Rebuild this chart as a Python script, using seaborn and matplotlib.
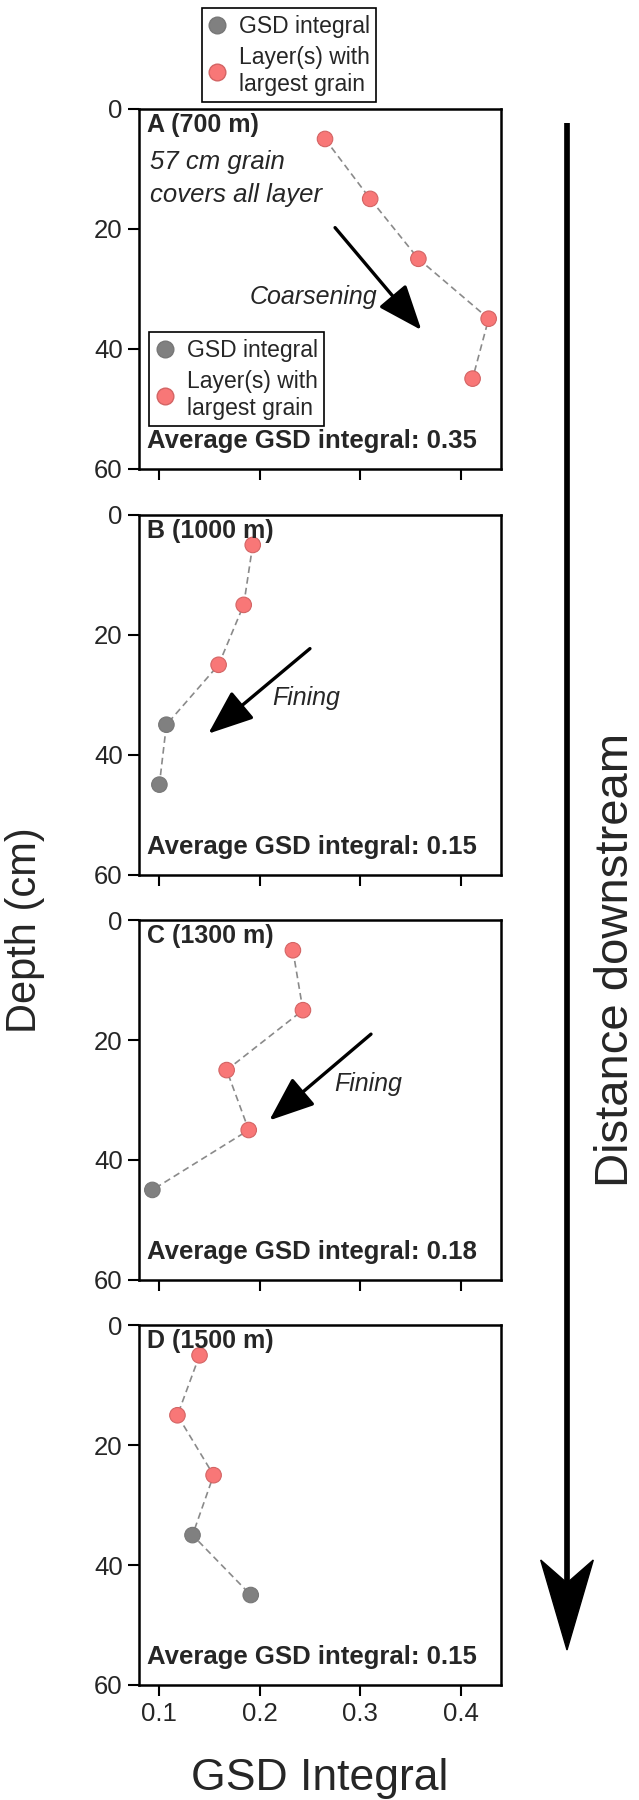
import numpy as np
import pandas as pd
import matplotlib
matplotlib.use("Agg")
import matplotlib.pyplot as plt
import seaborn as sns
from matplotlib.lines import Line2D
from matplotlib.patches import Polygon

# depth of each sampled layer (cm)
depth = [5, 15, 25, 35, 45]

# GSD integral per layer
gsd_a = [0.265, 0.310, 0.358, 0.428, 0.412]
gsd_b = [0.193, 0.184, 0.159, 0.107, 0.100]
gsd_c = [0.233, 0.243, 0.167, 0.189, 0.093]
gsd_d = [0.140, 0.118, 0.154, 0.133, 0.191]

# True = layer(s) holding the largest grain
big_a = [True, True, True, True, True]
big_b = [True, True, True, False, False]
big_c = [True, True, True, True, False]
big_d = [True, True, True, False, False]

panel_names = ["A (700 m)", "B (1000 m)", "C (1300 m)", "D (1500 m)"]
averages = [0.35, 0.15, 0.18, 0.15]

PINK = "#f87777"
PINK_EDGE = "#d36464"
GREY = "#808080"
LBL_INT = "GSD integral"
LBL_BIG = "Layer(s) with\nlargest grain"

sns.set_style("ticks")
plt.rcParams["font.family"] = ["Liberation Sans", "DejaVu Sans"]

W, H = 639, 1800
fig = plt.figure(figsize=(W / 100, H / 100), dpi=100)

left_px, width_px, height_px = 139.3, 361.4, 359.5
tops_px = [109, 515, 920.3, 1325.4]

all_gsd = [gsd_a, gsd_b, gsd_c, gsd_d]
all_big = [big_a, big_b, big_c, big_d]

axes = []
for i, top in enumerate(tops_px):
    ax = fig.add_axes([left_px / W, 1 - (top + height_px) / H, width_px / W, height_px / H])
    axes.append(ax)
    df = pd.DataFrame({
        "gsd": all_gsd[i],
        "depth": depth,
        "kind": [LBL_BIG if b else LBL_INT for b in all_big[i]],
    })
    sns.lineplot(data=df, x="gsd", y="depth", sort=False, estimator=None,
                 color="#8a8a8a", lw=1.2, linestyle=(0, (4, 2.5)), ax=ax, zorder=1)
    edges = [PINK_EDGE if k == LBL_BIG else "#777777" for k in df["kind"]]
    sns.scatterplot(data=df, x="gsd", y="depth", hue="kind",
                    palette={LBL_BIG: PINK, LBL_INT: GREY}, s=125,
                    edgecolor=edges, linewidth=0.8, legend=False, ax=ax, zorder=3)

    ax.set_xlim(0.08, 0.44)
    ax.set_ylim(60, 0)
    ax.set_xticks([0.1, 0.2, 0.3, 0.4])
    ax.set_yticks([0, 20, 40, 60])
    ax.set_xlabel("")
    ax.set_ylabel("")
    if i < 3:
        ax.set_xticklabels([])
    for sp in ax.spines.values():
        sp.set_linewidth(1.8)
        sp.set_color("black")
    ax.tick_params(length=8, width=1.5, labelsize=18.5, pad=4, color="black")

    ax.text(0.02, 1 - 23 / height_px, panel_names[i], transform=ax.transAxes,
            fontsize=18, fontweight="bold", va="baseline", ha="left")
    ax.text(0.02, 20.5 / height_px, f"Average GSD integral: {averages[i]:.2f}",
            transform=ax.transAxes, fontsize=18.5, fontweight="bold",
            va="baseline", ha="left")

# annotations in panel A
ax = axes[0]
ax.text(0.03, 0.832, "57 cm grain", transform=ax.transAxes, fontsize=18.5,
        style="italic", va="baseline")
ax.text(0.03, 0.742, "covers all layer", transform=ax.transAxes, fontsize=18.5,
        style="italic", va="baseline")
ax.text(0.253, 31.4, "Coarsening", fontsize=18, style="italic", ha="center", va="center")

arrow_kw = dict(arrowstyle="-|>,head_length=1.4,head_width=0.55", color="black",
                lw=2.4, shrinkA=0, shrinkB=0, mutation_scale=20)
ax.annotate("", xy=(0.361, 36.9), xytext=(0.275, 19.8), arrowprops=arrow_kw)

ax = axes[1]
ax.text(0.2467, 30.6, "Fining", fontsize=18, style="italic", ha="center", va="center")
ax.annotate("", xy=(0.1487, 36.5), xytext=(0.25, 22.3), arrowprops=arrow_kw)

ax = axes[2]
ax.text(0.308, 27.4, "Fining", fontsize=18, style="italic", ha="center", va="center")
ax.annotate("", xy=(0.2095, 33.4), xytext=(0.3108, 19.0), arrowprops=arrow_kw)

# legends: one above the panels, one inside panel A
handles = [
    Line2D([], [], marker="o", ls="", markersize=12, markerfacecolor=GREY,
           markeredgecolor="#777777", label=LBL_INT),
    Line2D([], [], marker="o", ls="", markersize=12, markerfacecolor=PINK,
           markeredgecolor=PINK_EDGE, label=LBL_BIG),
]
leg_kw = dict(handles=handles, loc="upper left", fontsize=16.5, frameon=True,
              fancybox=False, edgecolor="black", framealpha=1, borderaxespad=0,
              handlelength=0.8, handletextpad=0.55, borderpad=0.28, labelspacing=0.38)
leg_top = fig.legend(bbox_to_anchor=(201.7 / W, 1 - 8.3 / H), **leg_kw)
leg_top.get_frame().set_linewidth(1.2)
leg_in = axes[0].legend(bbox_to_anchor=(149.3 / W, 1 - 332.3 / H),
                        bbox_transform=fig.transFigure, **leg_kw)
leg_in.get_frame().set_linewidth(1.2)

# axis titles
fig.text(25 / W, 1 - 930 / H, "Depth (cm)", rotation=90, fontsize=30,
         ha="center", va="center")
fig.text(320 / W, 1 - 1790 / H, "GSD Integral", fontsize=32,
         ha="center", va="baseline")

# big "Distance downstream" arrow on the right
ax_x = 567 / W
fig.add_artist(Line2D([ax_x, ax_x], [1 - 123 / H, 1 - 1585 / H], color="black",
                      lw=4.1, solid_capstyle="butt"))
head = Polygon([[567 / W, 1 - 1650 / H], [540.7 / W, 1 - 1560 / H],
                [567 / W, 1 - 1583 / H], [593.3 / W, 1 - 1560 / H]],
               closed=True, facecolor="black", edgecolor="black",
               transform=fig.transFigure)
fig.add_artist(head)
fig.text(628 / W, 1 - 960 / H, "Distance downstream", rotation=90, fontsize=34,
         ha="center", va="baseline", rotation_mode="anchor")

fig.savefig("out.png", dpi=100)
